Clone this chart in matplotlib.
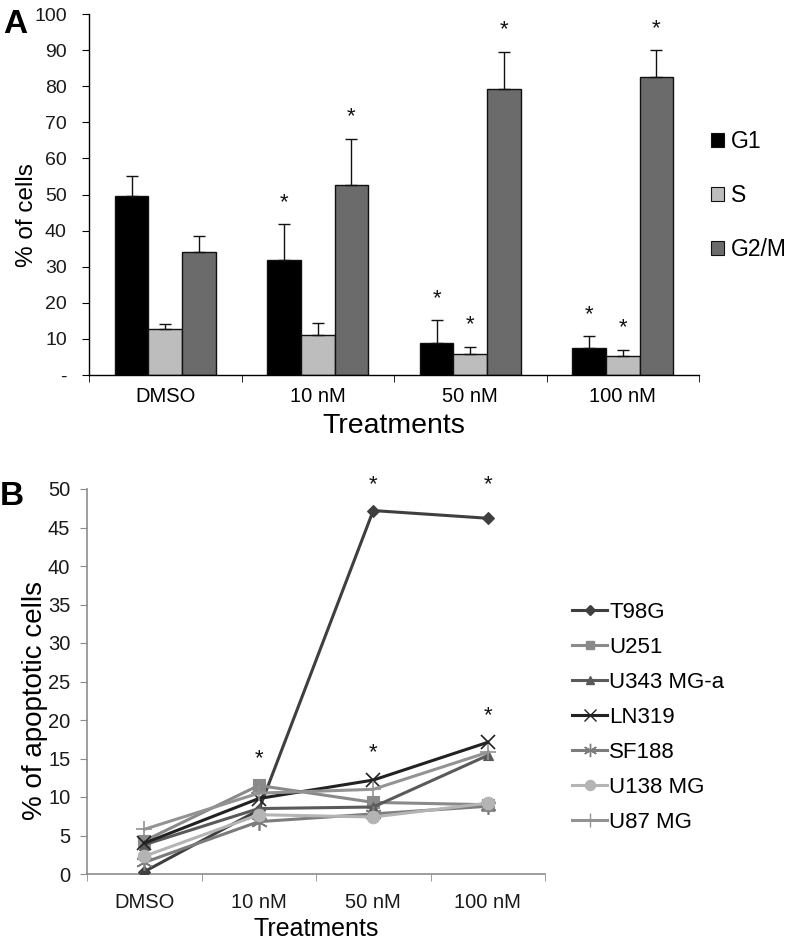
import numpy as np
import matplotlib
matplotlib.use('Agg')
import matplotlib.pyplot as plt
from matplotlib.patches import Patch
from matplotlib.lines import Line2D

plt.rcParams['font.family'] = ['Liberation Sans', 'DejaVu Sans']

# ---- panel A data: cell cycle phases
categories = ['DMSO', '10 nM', '50 nM', '100 nM']
phases = ['G1', 'S', 'G2/M']
g1 = [49.5, 31.9, 8.9, 7.5]
g1_err = [5.5, 9.8, 6.3, 3.2]
s_phase = [12.7, 11.1, 5.8, 5.3]
s_err = [1.5, 3.4, 2.0, 1.7]
g2m = [34.0, 52.5, 79.1, 82.5]
g2m_err = [4.4, 13.0, 10.5, 7.5]
# (phase index, treatment index) with significance star
a_stars = [(0, 1), (2, 1), (0, 2), (1, 2), (2, 2), (0, 3), (1, 3), (2, 3)]

# ---- panel B data: apoptotic cells per cell line
lines_names = ['T98G', 'U251', 'U343 MG-a', 'LN319', 'SF188', 'U138 MG', 'U87 MG']
t98g = [0.3, 8.3, 47.2, 46.2]
u251 = [4.3, 11.5, 9.3, 9.0]
u343 = [3.8, 8.5, 8.7, 15.4]
ln319 = [4.0, 9.8, 12.2, 17.1]
sf188 = [1.5, 6.8, 7.8, 8.8]
u138 = [2.3, 7.7, 7.4, 9.2]
u87 = [5.8, 10.5, 11.0, 15.8]
# (treatment index, y) of stars
b_stars = [(1, 15.0), (2, 50.6), (2, 15.8), (3, 50.6), (3, 20.6)]

W, H = 792, 944
fig = plt.figure(figsize=(W / 100, H / 100), dpi=100)

def box(l, t, r, b):
    return [l / W, 1 - b / H, (r - l) / W, (b - t) / H]

# ================= panel A
axA = fig.add_axes(box(89, 14, 699, 375))
x = np.arange(len(categories))
bw = 0.22
bar_colors = ['#000000', '#bdbdbd', '#6b6b6b']
vals = [g1, s_phase, g2m]
errs = [g1_err, s_err, g2m_err]
for i in range(3):
    xs = x + (i - 1) * bw
    axA.bar(xs, vals[i], bw, color=bar_colors[i], edgecolor='#111111',
            linewidth=1, label=phases[i], zorder=2)
    axA.errorbar(xs, vals[i], yerr=[np.zeros(4), errs[i]], fmt='none',
                 ecolor='#111111', elinewidth=1, capsize=4, capthick=1, zorder=3)
for pi, ci in a_stars:
    axA.text(ci + (pi - 1) * bw, vals[pi][ci] + errs[pi][ci] + 6.0, '*',
             ha='center', va='center', fontsize=16, color='#111111')

axA.set_xlim(-0.5, 3.5)
axA.set_ylim(0, 100)
axA.set_yticks(np.arange(0, 101, 10))
axA.set_yticklabels(['-'] + [str(v) for v in range(10, 101, 10)])
axA.set_xticks(x)
axA.set_xticklabels(categories)
axA.set_xticks(np.arange(-0.5, 4, 1), minor=True)
axA.tick_params(axis='x', which='major', length=0, labelsize=14.5, pad=9)
axA.tick_params(axis='x', which='minor', length=5, direction='out')
axA.tick_params(axis='y', length=5, direction='out', labelsize=14, pad=11,
                labelcolor='#1a1a1a')
for sp in ['top', 'right']:
    axA.spines[sp].set_visible(False)
for sp in ['left', 'bottom']:
    axA.spines[sp].set_linewidth(1)
axA.set_ylabel('% of cells', fontsize=17.5)
axA.yaxis.set_label_coords(-0.084, 0.443)
axA.set_xlabel('Treatments', fontsize=20.5, labelpad=5)

handlesA = [Patch(facecolor=bar_colors[i], edgecolor='#111111', linewidth=0.8)
            for i in range(3)]
axA.legend(handlesA, phases, loc='center left', bbox_to_anchor=(1.02, 0.497),
           frameon=False, fontsize=16.5, handlelength=0.55, handleheight=0.55,
           handletextpad=0.3, labelspacing=1.34, borderaxespad=0, borderpad=0)

# ================= panel B
axB = fig.add_axes(box(87, 489, 545, 874))
series = [t98g, u251, u343, ln319, sf188, u138, u87]
colorsB = ['#3f3f3f', '#8a8a8a', '#5a5a5a', '#222222', '#7c7c7c', '#b4b4b4', '#939393']
markers = ['D', 's', '^', 'x', (6, 2, 0), 'o', '+']
msizes = [6, 8, 7, 10, 12, 9, 12]
for name, ys, c, m, ms in zip(lines_names, series, colorsB, markers, msizes):
    axB.plot(x, ys, color=c, linewidth=2.2, marker=m, markersize=ms,
             markeredgewidth=1.2 if m in ('x', '+', (6, 2, 0)) else 0.8,
             markeredgecolor=c, label=name, zorder=3)
for ci, yv in b_stars:
    axB.text(ci, yv, '*', ha='center', va='center', fontsize=16, color='#111111')

axB.set_xlim(-0.5, 3.5)
axB.set_ylim(0, 50)
axB.set_yticks(np.arange(0, 51, 5))
axB.set_xticks(x)
axB.set_xticklabels(categories)
axB.set_xticks(np.arange(-0.5, 4, 1), minor=True)
axB.tick_params(axis='x', which='major', length=0, labelsize=14.5, pad=14,
                labelcolor='#1a1a1a')
axB.tick_params(axis='x', which='minor', length=5, direction='out', color='#8c8c8c')
axB.tick_params(axis='y', length=5, direction='out', labelsize=14.5, pad=7,
                color='#8c8c8c', labelcolor='#1a1a1a')
for sp in ['top', 'right']:
    axB.spines[sp].set_visible(False)
for sp in ['left', 'bottom']:
    axB.spines[sp].set_color('#8c8c8c')
    axB.spines[sp].set_linewidth(1.2)
axB.set_ylabel('% of apoptotic cells', fontsize=20)
axB.yaxis.set_label_coords(-0.085, 0.45)
axB.set_xlabel('Treatments', fontsize=18, labelpad=3)

handlesB = [Line2D([0], [0], color=c, linewidth=2.2, marker=m, markersize=ms * 0.8,
                   markeredgecolor=c) for c, m, ms in zip(colorsB, markers, msizes)]
axB.legend(handlesB, lines_names, loc='center left', bbox_to_anchor=(1.059, 0.4065),
           frameon=False, fontsize=16, handlelength=1.58, handletextpad=0.1,
           labelspacing=0.63, borderaxespad=0, borderpad=0)

# panel letters
fig.text(3 / W, 1 - 33 / H, 'A', fontsize=24, fontweight='bold')
fig.text(0 / W, 1 - 505 / H, 'B', fontsize=24, fontweight='bold')

fig.savefig('out.png', dpi=100)
